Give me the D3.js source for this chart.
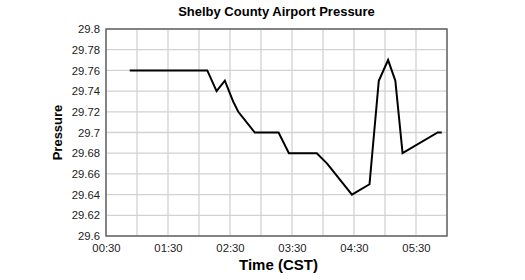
<!DOCTYPE html>
<html>
<head>
<meta charset="utf-8">
<script src="https://cdn.jsdelivr.net/npm/d3@7"></script>
<style>
  body { margin: 0; background: #fff; }
  text { font-family: Arial, "Liberation Sans", sans-serif; }
</style>
</head>
<body>
<div id="chart"></div>
<script>
// observation times (CST) and pressure readings
var times = ["00:53", "01:53", "02:08", "02:17", "02:25", "02:33", "02:38", "02:54",
             "03:17", "03:27", "03:54", "04:04", "04:28", "04:45", "04:54", "05:03",
             "05:10", "05:17", "05:51", "05:55"];
var pressure = [29.76, 29.76, 29.76, 29.74, 29.75, 29.73, 29.72, 29.70,
                29.70, 29.68, 29.68, 29.67, 29.64, 29.65, 29.75, 29.77,
                29.75, 29.68, 29.70, 29.70];
var timeRange = ["00:30", "06:00"];
var pressureRange = [29.6, 29.8];
var yTicks = [29.6, 29.62, 29.64, 29.66, 29.68, 29.7, 29.72, 29.74, 29.76, 29.78, 29.8];
var xTickLabels = ["00:30", "01:30", "02:30", "03:30", "04:30", "05:30"];

var parseTime = d3.utcParse("%H:%M");

var margin = {top: 29, right: 78, bottom: 44, left: 106},
    width = 525 - margin.left - margin.right,
    height = 280 - margin.top - margin.bottom;

var svg = d3.select("#chart")
    .append("svg")
    .attr("width", 525)
    .attr("height", 280)
    .append("g")
    .attr("transform", "translate(" + margin.left + "," + margin.top + ")");

var data = times.map(function (t, i) {
    return {time: parseTime(t), value: pressure[i]};
});

var x = d3.scaleUtc()
    .domain(timeRange.map(parseTime))
    .range([0, width]);

var y = d3.scaleLinear()
    .domain(pressureRange)
    .range([height, 0]);

// grid lines
var gridTimes = d3.utcMinute.every(30).range(x.domain()[0], d3.utcMinute.offset(x.domain()[1], 1));
svg.append("g")
    .selectAll("line")
    .data(gridTimes)
    .enter()
    .append("line")
    .attr("x1", d => x(d)).attr("x2", d => x(d))
    .attr("y1", 0).attr("y2", height)
    .style("stroke", "#d2d2d2")
    .style("stroke-width", 1.3);

svg.append("g")
    .selectAll("line")
    .data(yTicks)
    .enter()
    .append("line")
    .attr("x1", 0).attr("x2", width)
    .attr("y1", d => y(d)).attr("y2", d => y(d))
    .style("stroke", "#d2d2d2")
    .style("stroke-width", 1.3);

// axes (labels only, the frame is drawn below)
var xAxis = svg.append("g")
    .attr("transform", "translate(0," + height + ")")
    .call(d3.axisBottom(x)
        .tickValues(xTickLabels.map(parseTime))
        .tickFormat(d3.utcFormat("%H:%M"))
        .tickSize(0)
        .tickPadding(8));

var yAxis = svg.append("g")
    .call(d3.axisLeft(y)
        .tickValues(yTicks)
        .tickFormat(d => String(+d.toFixed(2)))
        .tickSize(0)
        .tickPadding(6));

[xAxis, yAxis].forEach(function (a) {
    a.select(".domain").remove();
    a.selectAll("text")
        .style("font-size", "11.3px")
        .style("font-family", "Arial, 'Liberation Sans', sans-serif")
        .style("fill", "#222");
});

// frame
svg.append("rect")
    .attr("width", width)
    .attr("height", height)
    .style("fill", "none")
    .style("stroke", "#666")
    .style("stroke-width", 1.5);

// the pressure line
var line = d3.line()
    .x(d => x(d.time))
    .y(d => y(d.value));

svg.append("path")
    .datum(data)
    .attr("d", line)
    .style("fill", "none")
    .style("stroke", "#000")
    .style("stroke-width", 2)
    .style("stroke-linejoin", "miter");

// title and axis labels
svg.append("text")
    .attr("x", width / 2)
    .attr("y", -13)
    .style("text-anchor", "middle")
    .style("font-size", "13px")
    .style("font-weight", "bold")
    .text("Shelby County Airport Pressure");

svg.append("text")
    .attr("x", width / 2 + 2)
    .attr("y", height + 34)
    .style("text-anchor", "middle")
    .style("font-size", "15px")
    .style("font-weight", "bold")
    .text("Time (CST)");

svg.append("text")
    .attr("transform", "rotate(-90)")
    .attr("x", -height / 2)
    .attr("y", -44)
    .style("text-anchor", "middle")
    .style("font-size", "13px")
    .style("font-weight", "bold")
    .text("Pressure");
</script>
</body>
</html>
